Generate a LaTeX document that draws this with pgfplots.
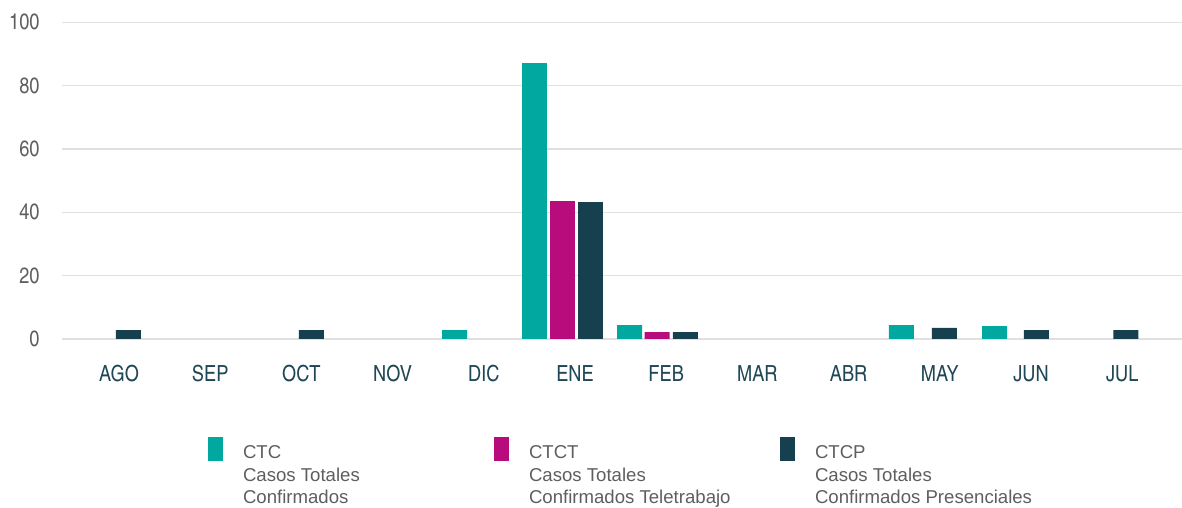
\documentclass[border=0pt]{standalone}
\usepackage{fontspec}
\setmainfont{Liberation Sans}
\newfontfamily\cn{TeX Gyre Heros Cn}
\usepackage{pgfplots}
\pgfplotsset{compat=1.18}
\definecolor{cteal}{HTML}{00A8A0}
\definecolor{cmag}{HTML}{B80C7D}
\definecolor{cdark}{HTML}{17404F}
\definecolor{xcol}{HTML}{1F4756}
\definecolor{ycol}{HTML}{5F5F5F}
\definecolor{legtext}{HTML}{5E5E5E}
\definecolor{gridc}{HTML}{E0E0E0}
\begin{document}
\begin{tikzpicture}
\useasboundingbox (-31pt,-84.5pt) rectangle (560pt,169.5pt);
\begin{axis}[
  scale only axis, width=560pt, height=158.35pt,
  xmin=-0.625, xmax=11.656, ymin=0, ymax=100,
  axis line style={draw=none},
  ytick={0,20,40,60,80,100},
  ymajorgrids, grid style={color=gridc, line width=0.6pt},
  xtick={0,...,11},
  xticklabels={AGO,SEP,OCT,NOV,DIC,ENE,FEB,MAR,ABR,MAY,JUN,JUL},
  major tick length=0pt, tick style={draw=none},
  /pgf/number format/assume math mode=true,
  tick label style={font=\cn\fontsize{11.1}{13}\selectfont},
  xticklabel style={text=xcol, anchor=center, yshift=-17.5pt},
  yticklabel style={text=ycol, anchor=east, inner sep=0pt, xshift=-11pt},
  legend columns=3,
  legend cell align=left,
  legend style={at={(0.13036,-0.3094)}, anchor=north west, draw=none, fill=none,
    inner sep=0pt, outer sep=0pt, row sep=0pt, column sep=0pt,
    nodes={inner sep=0pt, outer sep=0pt, text=legtext, font=\fontsize{9.3}{11.35}\selectfont}},
  legend image code/.code={\fill[#1] (0pt,-4.5pt) rectangle (7.5pt,7.5pt);},
]
\addplot[ybar, bar width=0.274, bar shift=0pt, fill=cteal, draw=none]
  coordinates {(3.68,2.84) (4.556,87.1) (5.60,4.4) (8.58,4.4) (9.60,4.1)};
\addlegendentry{{\hspace*{10pt}\begin{tabular}[t]{@{}p{125.5pt}@{}}CTC\\Casos Totales\\Confirmados\end{tabular}}}
\addplot[ybar, bar width=0.274, bar shift=0pt, fill=cmag, draw=none]
  coordinates {(4.863,43.5) (5.90,2.2)};
\addlegendentry{{\hspace*{10pt}\begin{tabular}[t]{@{}p{125.5pt}@{}}CTCT\\Casos Totales\\Confirmados Teletrabajo\end{tabular}}}
\addplot[ybar, bar width=0.274, bar shift=0pt, fill=cdark, draw=none]
  coordinates {(0.104,2.84) (2.11,2.84) (5.17,43.2) (6.21,2.2) (9.05,3.5) (10.06,2.84) (11.04,2.84)};
\addlegendentry{{\hspace*{10pt}\begin{tabular}[t]{@{}p{125.5pt}@{}}CTCP\\Casos Totales\\Confirmados Presenciales\end{tabular}}}
\end{axis}
\end{tikzpicture}
\end{document}
